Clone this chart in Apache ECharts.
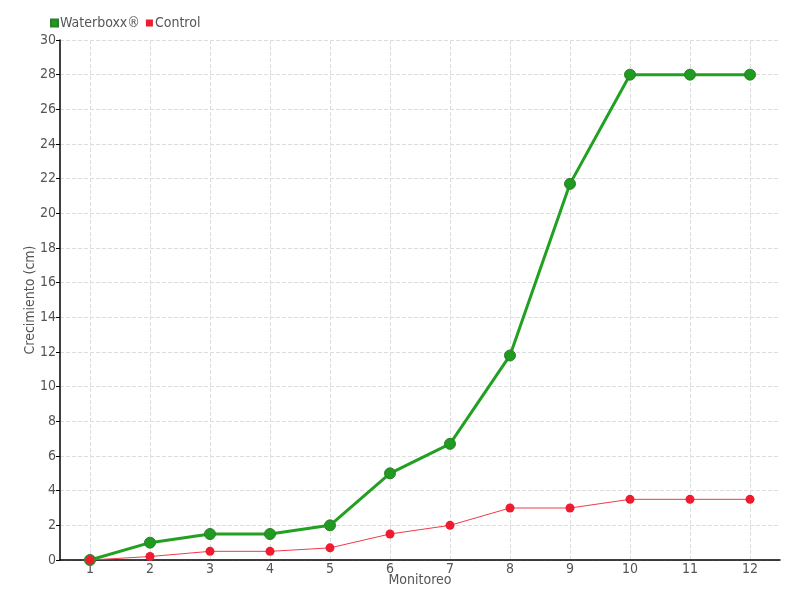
<!DOCTYPE html>
<html><head><meta charset="utf-8">
<script src="https://cdn.jsdelivr.net/npm/echarts@6/dist/echarts.min.js"></script>
<style>html,body{margin:0;padding:0;background:#fff}#c{width:800px;height:600px}</style>
</head><body><div id="c"></div>
<script>
const categories = ['1','2','3','4','5','6','7','8','9','10','11','12'];
const waterboxx = [0, 1, 1.5, 1.5, 2, 5, 6.7, 11.8, 21.7, 28, 28, 28];
const control = [0, 0.2, 0.5, 0.5, 0.7, 1.5, 2, 3, 3, 3.5, 3.5, 3.5];
const FONT = '"DejaVu Sans Condensed", "Liberation Sans Narrow", "Liberation Sans", sans-serif';
const chart = echarts.init(document.getElementById('c'));
chart.setOption({
  animation: false,
  textStyle: {fontFamily: FONT},
  legend: {
    left: 45, top: 11, itemWidth: 7, itemHeight: 7, itemGap: 6,
    icon: 'rect',
    textStyle: {fontFamily: FONT, fontSize: 14, color: '#555', padding: [0,0,0,-3]},
    data: ['Waterboxx®', 'Control']
  },
  grid: {left: 60, right: 20, top: 40, bottom: 40, containLabel: false},
  xAxis: {
    type: 'category', data: categories, boundaryGap: true,
    name: 'Monitoreo', nameLocation: 'middle', nameGap: 13, nameMoveOverlap: false,
    nameTextStyle: {fontFamily: FONT, fontSize: 14, color: '#555', verticalAlign: 'top'},
    axisLine: {lineStyle: {color: '#000', width: 1.5}},
    axisTick: {alignWithLabel: true, length: 4, lineStyle: {color: '#000'}},
    axisLabel: {fontFamily: FONT, fontSize: 14, color: '#555', margin: 2},
    splitLine: {show: true, alignWithLabel: true, lineStyle: {type: 'dashed', color: '#ddd'}}
  },
  yAxis: {
    type: 'value', min: 0, max: 30, interval: 2,
    name: 'Crecimiento (cm)', nameLocation: 'middle', nameGap: 30, nameMoveOverlap: false,
    nameTextStyle: {fontFamily: FONT, fontSize: 14, color: '#555', verticalAlign: 'middle'},
    axisLine: {show: true, lineStyle: {color: '#000', width: 1.5}},
    axisTick: {show: true, length: 4, lineStyle: {color: '#000'}},
    axisLabel: {fontFamily: FONT, fontSize: 14, color: '#555', margin: 4},
    splitLine: {show: true, lineStyle: {type: 'dashed', color: '#ddd'}}
  },
  series: [
    {
      name: 'Waterboxx®', type: 'line', data: waterboxx,
      symbol: 'circle', symbolSize: 11, z: 3,
      itemStyle: {color: '#1f9b1f', borderColor: '#2e7d2e', borderWidth: 1},
      lineStyle: {color: '#22a022', width: 3}
    },
    {
      name: 'Control', type: 'line', data: control,
      symbol: 'circle', symbolSize: 9, z: 4,
      itemStyle: {color: '#ee1c2e'},
      lineStyle: {color: '#f03a4a', width: 1}
    }
  ]
});
</script></body></html>
